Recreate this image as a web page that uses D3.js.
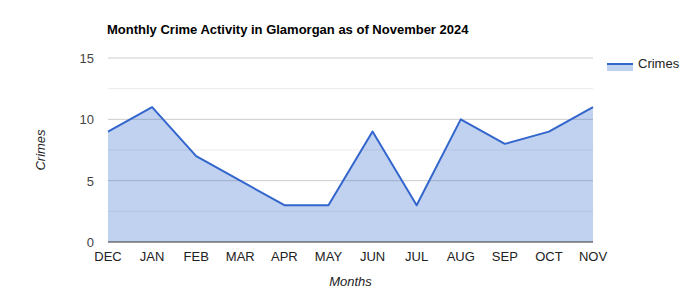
<!DOCTYPE html>
<html>
<head>
<meta charset="utf-8">
<script src="https://cdn.jsdelivr.net/npm/d3@7"></script>
<style>
  body { margin: 0; background: #fff; }
  text { font-family: Arial, "Liberation Sans", sans-serif; }
</style>
</head>
<body>
<svg id="chart" width="700" height="300"></svg>
<script>
var months = ["DEC", "JAN", "FEB", "MAR", "APR", "MAY", "JUN", "JUL", "AUG", "SEP", "OCT", "NOV"];
var crimes = [9, 11, 7, 5, 3, 3, 9, 3, 10, 8, 9, 11];
var yTicks = [0, 5, 10, 15];
var yMinorTicks = [2.5, 7.5, 12.5];

var margin = {top: 58, bottom: 58, left: 108, right: 107};
var width = 700, height = 300;
var svg = d3.select("#chart");

var data = months.map(function(m, i) { return {month: m, value: crimes[i]}; });

var xScale = d3.scalePoint()
  .domain(months)
  .range([margin.left, width - margin.right]);
var yScale = d3.scaleLinear()
  .domain([0, 15])
  .range([height - margin.bottom, margin.top]);

// gridlines
svg.append("g").selectAll("line.minor")
  .data(yMinorTicks)
  .enter().append("line")
    .attr("x1", margin.left).attr("x2", width - margin.right)
    .attr("y1", function(d) { return yScale(d); })
    .attr("y2", function(d) { return yScale(d); })
    .attr("stroke", "#ebebeb");
svg.append("g").selectAll("line.major")
  .data(yTicks.slice(1))
  .enter().append("line")
    .attr("x1", margin.left).attr("x2", width - margin.right)
    .attr("y1", function(d) { return yScale(d); })
    .attr("y2", function(d) { return yScale(d); })
    .attr("stroke", "#cccccc");

// area + line
var area = d3.area()
  .x(function(d) { return xScale(d.month); })
  .y0(yScale(0))
  .y1(function(d) { return yScale(d.value); });
var line = d3.line()
  .x(function(d) { return xScale(d.month); })
  .y(function(d) { return yScale(d.value); });

svg.append("path")
  .datum(data)
  .attr("d", area)
  .attr("fill", "#3366cc")
  .attr("fill-opacity", 0.3);
svg.append("path")
  .datum(data)
  .attr("d", line)
  .attr("fill", "none")
  .attr("stroke", "#3366cc")
  .attr("stroke-width", 2)
  .attr("stroke-linejoin", "round");

// baseline
svg.append("line")
  .attr("x1", margin.left).attr("x2", width - margin.right)
  .attr("y1", yScale(0)).attr("y2", yScale(0))
  .attr("stroke", "#333333");

// y labels
svg.append("g").selectAll("text")
  .data(yTicks)
  .enter().append("text")
    .attr("x", 94)
    .attr("y", function(d) { return yScale(d) + 5; })
    .attr("text-anchor", "end")
    .attr("font-size", 13)
    .attr("fill", "#444")
    .text(function(d) { return d; });

// x labels
svg.append("g").selectAll("text")
  .data(months)
  .enter().append("text")
    .attr("x", function(d) { return xScale(d); })
    .attr("y", 261)
    .attr("text-anchor", "middle")
    .attr("font-size", 13)
    .attr("fill", "#222")
    .text(function(d) { return d; });

// titles
svg.append("text")
  .attr("x", 107).attr("y", 34)
  .attr("font-size", 13)
  .attr("font-weight", "bold")
  .attr("fill", "#000")
  .text("Monthly Crime Activity in Glamorgan as of November 2024");

svg.append("text")
  .attr("x", (margin.left + width - margin.right) / 2)
  .attr("y", 286)
  .attr("text-anchor", "middle")
  .attr("font-size", 13)
  .attr("font-style", "italic")
  .attr("fill", "#222")
  .text("Months");

svg.append("text")
  .attr("transform", "translate(45," + ((margin.top + height - margin.bottom) / 2) + ") rotate(-90)")
  .attr("text-anchor", "middle")
  .attr("font-size", 13)
  .attr("font-style", "italic")
  .attr("fill", "#222")
  .text("Crimes");

// legend
var legend = svg.append("g").attr("transform", "translate(607,64)");
legend.append("rect")
  .attr("x", 0).attr("y", 0)
  .attr("width", 26).attr("height", 7)
  .attr("fill", "#3366cc").attr("fill-opacity", 0.3);
legend.append("line")
  .attr("x1", 0).attr("x2", 26).attr("y1", 0).attr("y2", 0)
  .attr("stroke", "#3366cc").attr("stroke-width", 2);
legend.append("text")
  .attr("x", 31).attr("y", 4)
  .attr("font-size", 13)
  .attr("fill", "#222")
  .text("Crimes");
</script>
</body>
</html>
